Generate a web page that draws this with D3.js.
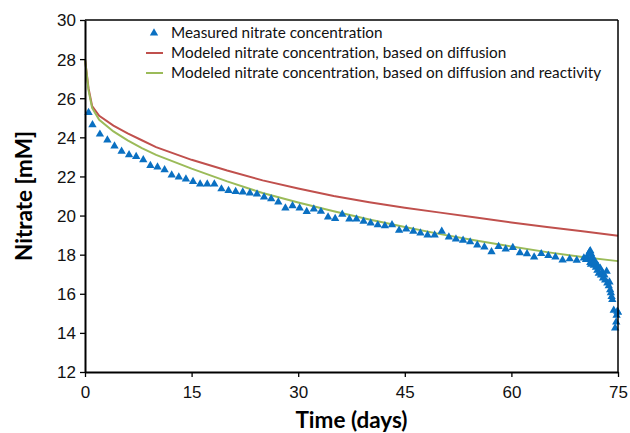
<!DOCTYPE html>
<html>
<head>
<meta charset="utf-8">
<script src="https://cdn.jsdelivr.net/npm/d3@7"></script>
<style>
  body { margin: 0; background: #fff; }
  svg { font-family: Lato, "Open Sans", sans-serif; font-variant-ligatures: none; }
</style>
</head>
<body>
<svg width="630" height="433"></svg>
<script>
// measured nitrate (days, mM)
var measuredDays = [0.5, 1.05, 2.1, 3.15, 4.15, 5.15, 6.2, 7.2, 8.2, 9.2, 10.2, 11.2, 12.2, 13.2, 14.2,
  15.2, 16.2, 17.2, 18.2, 19.2, 20.2, 21.2, 22.2, 23.2, 24.2, 25.2, 26.2, 27.2, 28.2, 29.2,
  30.2, 31.2, 32.2, 33.2, 34.2, 35.2, 36.2, 37.2, 38.2, 39.2, 40.2, 41.2, 42.2, 43.2, 44.2,
  45.2, 46.2, 47.2, 48.2, 49.2, 50.2, 51.2, 52.2, 53.2, 54.2, 55.2, 56.2, 57.2, 58.2, 59.2,
  60.2, 61.2, 62.2, 63.2, 64.2, 65.2, 66.2, 67.2, 68.2, 69.2, 70.2,
  70.5, 70.7, 70.9, 71.0, 71.1, 71.2, 71.3, 71.1, 71.2, 71.4, 71.5, 71.6, 71.7, 71.8, 71.9,
  72.0, 72.1, 72.2, 72.3, 72.5, 72.6, 72.8, 72.9, 73.1, 73.2, 73.4, 73.5, 73.7, 73.8, 73.9,
  74.0, 74.1, 74.2, 74.4, 74.6, 74.75, 74.8, 74.9, 75.0];
var measuredNitrate = [25.27, 24.64, 24.16, 23.86, 23.55, 23.28, 23.11, 23.02, 22.85, 22.56, 22.48, 22.34, 22.07, 21.97, 21.87,
  21.74, 21.61, 21.61, 21.61, 21.36, 21.28, 21.23, 21.2, 21.15, 21.1, 20.95, 20.86, 20.69, 20.38, 20.5,
  20.38, 20.2, 20.33, 20.21, 19.92, 19.85, 20.06, 19.82, 19.82, 19.71, 19.62, 19.52, 19.47, 19.53, 19.24,
  19.31, 19.19, 19.1, 19.0, 19.0, 19.19, 18.9, 18.8, 18.73, 18.65, 18.49, 18.39, 18.14, 18.41, 18.29,
  18.36, 18.09, 18.04, 17.88, 18.05, 17.95, 17.88, 17.72, 17.78, 17.71, 17.83,
  17.75, 17.85, 18.05, 18.15, 18.2, 18.05, 17.9, 17.6, 17.5, 17.75, 17.6, 17.45, 17.7, 17.55, 17.35,
  17.5, 17.2, 17.4, 17.05, 17.3, 16.95, 17.1, 16.8, 16.95, 16.7, 17.15, 16.55, 16.4, 16.6, 16.2,
  16.05, 15.85, 15.7, 15.15, 14.25, 14.55, 14.9, 15.1, 15.05];

// modeled curves
var modelDays = [0, 0.5, 1, 2, 4, 6, 8, 10, 15, 20, 25, 30, 35, 40, 45, 50, 55, 60, 65, 70, 75];
var diffusionNitrate = [28, 26.5, 25.6, 25.1, 24.6, 24.2, 23.85, 23.5, 22.85, 22.3, 21.8, 21.38, 21.0, 20.68, 20.4, 20.15, 19.9, 19.65, 19.42, 19.2, 18.97];
var reactivityNitrate = [28, 26.4, 25.5, 24.9, 24.3, 23.85, 23.45, 23.1, 22.4, 21.75, 21.15, 20.67, 20.22, 19.8, 19.42, 19.05, 18.72, 18.42, 18.13, 17.88, 17.67];

var xTicks = [0, 15, 30, 45, 60, 75];
var yTicks = [12, 14, 16, 18, 20, 22, 24, 26, 28, 30];

var legendLabels = [
  "Measured nitrate concentration",
  "Modeled nitrate concentration, based on diffusion",
  "Modeled nitrate concentration, based on diffusion and reactivity"
];

var blue = "#0a70c2", red = "#c0504d", green = "#9bbb59";

var margin = {top: 20, right: 12, bottom: 61, left: 85};
var svg = d3.select("svg");
var width = 630 - margin.left - margin.right;
var height = 433 - margin.top - margin.bottom;

var x = d3.scaleLinear().domain([0, 75]).range([0, width]);
var y = d3.scaleLinear().domain([12, 30]).range([height, 0]);

var g = svg.append("g").attr("transform", `translate(${margin.left},${margin.top})`);

// model lines
var line = d3.line().x(d => x(d[0])).y(d => y(d[1]));

g.append("path")
  .datum(modelDays.map((t, i) => [t, diffusionNitrate[i]]))
  .attr("d", line)
  .attr("fill", "none").attr("stroke", red).attr("stroke-width", 2);

g.append("path")
  .datum(modelDays.map((t, i) => [t, reactivityNitrate[i]]))
  .attr("d", line)
  .attr("fill", "none").attr("stroke", green).attr("stroke-width", 2);

// measured points
var tri = d3.symbol().type(d3.symbolTriangle).size(30);
g.append("g")
  .selectAll("path")
  .data(measuredDays.map((t, i) => [t, measuredNitrate[i]]))
  .enter()
  .append("path")
    .attr("d", tri)
    .attr("transform", d => `translate(${x(d[0])},${y(d[1])})`)
    .attr("fill", blue);

// axes
var xAxis = g.append("g")
  .attr("transform", `translate(0,${height})`)
  .call(d3.axisBottom(x).tickValues(xTicks).tickSize(5).tickSizeOuter(0));
var yAxis = g.append("g")
  .call(d3.axisLeft(y).tickValues(yTicks).tickSize(5).tickSizeOuter(0));

[xAxis, yAxis].forEach(a => {
  a.select(".domain").attr("stroke", "#000").attr("stroke-width", 2);
  a.selectAll(".tick line").attr("stroke", "#000").attr("stroke-width", 1.3);
  a.selectAll("text").attr("fill", "#111").style("font-size", "17px");
});
xAxis.selectAll("text").attr("dy", "1.05em");
yAxis.selectAll("text").attr("x", -9).attr("dy", "0.35em");

// top and right frame
g.append("line").attr("x1", 0).attr("x2", width).attr("y1", 0).attr("y2", 0)
  .attr("stroke", "#000").attr("stroke-width", 1.5);
g.append("line").attr("x1", width).attr("x2", width).attr("y1", 0).attr("y2", height)
  .attr("stroke", "#000").attr("stroke-width", 1.5);

// axis titles
svg.append("text")
  .attr("x", margin.left + width / 2)
  .attr("y", 428)
  .attr("text-anchor", "middle")
  .style("font-size", "22.5px")
  .style("font-weight", "bold")
  .text("Time (days)");

svg.append("text")
  .attr("transform", `translate(32,${margin.top + height / 2}) rotate(-90)`)
  .attr("text-anchor", "middle")
  .style("font-size", "22.5px")
  .style("font-weight", "bold")
  .text("Nitrate [mM]");

// legend
var legend = svg.append("g").attr("transform", "translate(146,33)");
legendLabels.forEach((lab, i) => {
  var row = legend.append("g").attr("transform", `translate(0,${i * 20})`);
  if (i === 0) {
    row.append("path").attr("d", tri).attr("transform", "translate(8,0)").attr("fill", blue);
  } else {
    row.append("line").attr("x1", 0).attr("x2", 17).attr("y1", 0).attr("y2", 0)
      .attr("stroke", i === 1 ? red : green).attr("stroke-width", 2);
  }
  row.append("text")
    .attr("x", 25).attr("dy", "0.35em")
    .style("font-size", "15.3px")
    .attr("fill", "#111")
    .text(lab);
});
</script>
</body>
</html>
